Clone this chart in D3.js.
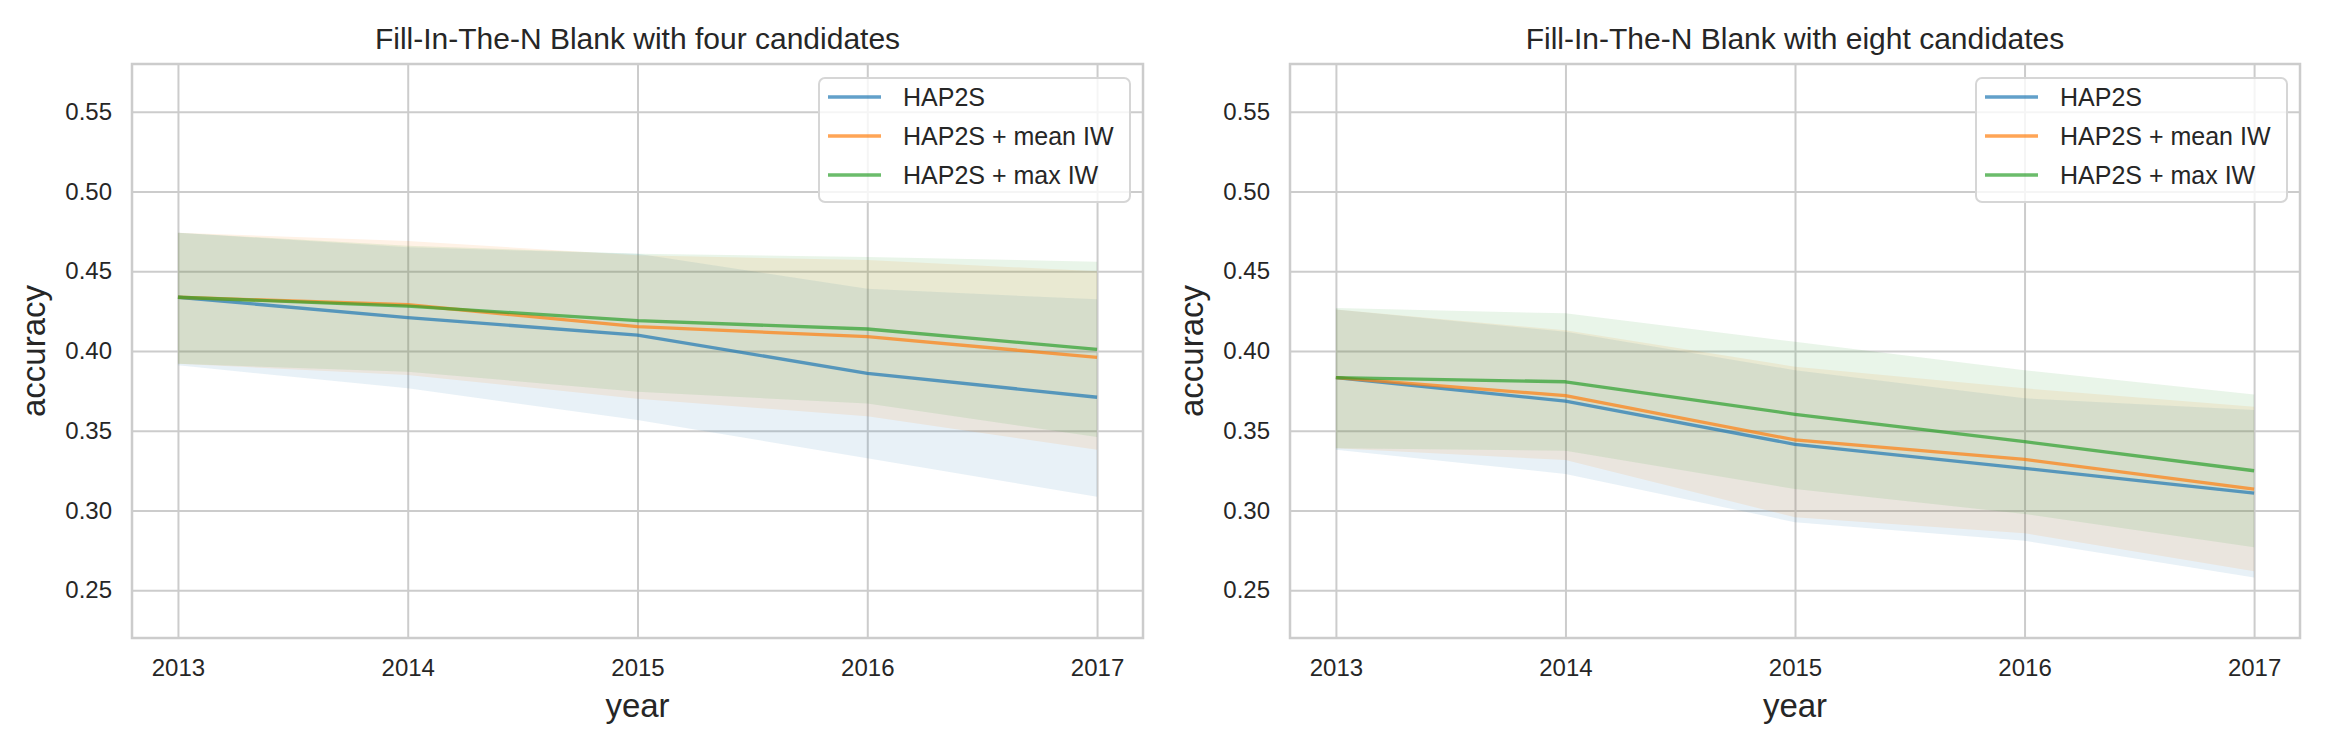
<!DOCTYPE html>
<html lang="en">
<head>
<meta charset="utf-8">
<title>Fill-In-The-N Blank</title>
<script src="https://d3js.org/d3.v7.min.js"></script>
<style>
  body { margin: 0; background: #ffffff; }
  text { font-family: "Liberation Sans", Arial, sans-serif; fill: #262626; }
</style>
</head>
<body>
<script>
// ---- data ----
const years = [2013, 2014, 2015, 2016, 2017];
const yTicks = [0.25, 0.30, 0.35, 0.40, 0.45, 0.50, 0.55];
const seriesNames = ["HAP2S", "HAP2S + mean IW", "HAP2S + max IW"];
const titles = ["Fill-In-The-N Blank with four candidates", "Fill-In-The-N Blank with eight candidates"];

// four candidates
const fourHap2s      = [0.4337, 0.4209, 0.4100, 0.3860, 0.3710];
const fourHap2sLow   = [0.3910, 0.3766, 0.3567, 0.3327, 0.3086];
const fourHap2sHigh  = [0.4742, 0.4650, 0.4610, 0.4390, 0.4324];
const fourMean       = [0.4337, 0.4290, 0.4153, 0.4090, 0.3960];
const fourMeanLow    = [0.3920, 0.3850, 0.3700, 0.3590, 0.3380];
const fourMeanHigh   = [0.4742, 0.4690, 0.4600, 0.4570, 0.4500];
const fourMax        = [0.4337, 0.4282, 0.4190, 0.4138, 0.4010];
const fourMaxLow     = [0.3920, 0.3870, 0.3745, 0.3670, 0.3460];
const fourMaxHigh    = [0.4742, 0.4660, 0.4610, 0.4590, 0.4560];

// eight candidates
const eightHap2s     = [0.3833, 0.3686, 0.3415, 0.3264, 0.3108];
const eightHap2sLow  = [0.3380, 0.3229, 0.2926, 0.2810, 0.2580];
const eightHap2sHigh = [0.4260, 0.4120, 0.3880, 0.3703, 0.3630];
const eightMean      = [0.3833, 0.3720, 0.3442, 0.3320, 0.3133];
const eightMeanLow   = [0.3390, 0.3316, 0.2957, 0.2857, 0.2618];
const eightMeanHigh  = [0.4260, 0.4130, 0.3902, 0.3766, 0.3651];
const eightMax       = [0.3833, 0.3807, 0.3603, 0.3431, 0.3249];
const eightMaxLow    = [0.3390, 0.3375, 0.3134, 0.2978, 0.2769];
const eightMaxHigh   = [0.4270, 0.4236, 0.4058, 0.3880, 0.3727];

const BLUE = "#1f77b4", ORANGE = "#ff7f0e", GREEN = "#2ca02c";
const GRID = "#cccccc";
const colors = [BLUE, ORANGE, GREEN];

const panels = [
  { title: titles[0], left: 132, right: 1143,
    series: [[fourHap2s, fourHap2sLow, fourHap2sHigh],
             [fourMean, fourMeanLow, fourMeanHigh],
             [fourMax, fourMaxLow, fourMaxHigh]] },
  { title: titles[1], left: 1290, right: 2300,
    series: [[eightHap2s, eightHap2sLow, eightHap2sHigh],
             [eightMean, eightMeanLow, eightMeanHigh],
             [eightMax, eightMaxLow, eightMaxHigh]] }
];

var width = 2332, height = 748, plotTop = 64, plotBottom = 638;

var svg = d3.select("body").append("svg")
    .attr("width", width)
    .attr("height", height);

panels.forEach(function(p) {
    var w = p.right - p.left, h = plotBottom - plotTop;

    var x = d3.scaleLinear().domain([2012.8, 2017.2]).range([0, w]);
    var y = d3.scaleLinear().domain([0.22, 0.58]).range([h, 0]);

    var g = svg.append("g").attr("transform", "translate(" + p.left + "," + plotTop + ")");

    // grid via axes
    var xAxis = g.append("g")
        .attr("transform", "translate(0," + h + ")")
        .call(d3.axisBottom(x).tickValues(years).tickFormat(d3.format("d"))
              .tickSize(-h).tickPadding(21));
    var yAxis = g.append("g")
        .call(d3.axisLeft(y).tickValues(yTicks).tickFormat(d3.format(".2f"))
              .tickSize(-w).tickPadding(20));

    [xAxis, yAxis].forEach(function(a) {
        a.select(".domain").remove();
        a.selectAll(".tick line").attr("stroke", GRID).attr("stroke-width", 2);
        a.selectAll(".tick text").attr("font-size", 24).attr("fill", "#262626")
            .style("font-family", '"Liberation Sans", Arial, sans-serif');
    });

    // bands
    p.series.forEach(function(s, i) {
        var area = d3.area()
            .x(function(d, k) { return x(years[k]); })
            .y0(function(d, k) { return y(s[1][k]); })
            .y1(function(d, k) { return y(s[2][k]); });
        g.append("path")
            .datum(years)
            .attr("d", area)
            .attr("fill", colors[i])
            .attr("fill-opacity", 0.1);
    });

    // lines
    p.series.forEach(function(s, i) {
        var line = d3.line()
            .x(function(d, k) { return x(years[k]); })
            .y(function(d) { return y(d); });
        g.append("path")
            .datum(s[0])
            .attr("d", line)
            .attr("fill", "none")
            .attr("stroke", colors[i])
            .attr("stroke-opacity", 0.7)
            .attr("stroke-width", 3.3)
            .attr("stroke-linejoin", "round");
    });

    // frame
    g.append("rect")
        .attr("width", w).attr("height", h)
        .attr("fill", "none")
        .attr("stroke", GRID)
        .attr("stroke-width", 2.5);

    // title and axis labels
    g.append("text")
        .attr("x", w / 2).attr("y", 49 - plotTop)
        .attr("text-anchor", "middle")
        .attr("font-size", 30)
        .text(p.title);

    g.append("text")
        .attr("x", w / 2).attr("y", 717 - plotTop)
        .attr("text-anchor", "middle")
        .attr("font-size", 33)
        .text("year");

    g.append("text")
        .attr("transform", "translate(-87," + (h / 2) + ") rotate(-90)")
        .attr("text-anchor", "middle")
        .attr("font-size", 33)
        .text("accuracy");

    // legend
    var lg = g.append("g").attr("transform", "translate(" + (w - 13 - 311) + ",14)");
    lg.append("rect")
        .attr("width", 311).attr("height", 124)
        .attr("rx", 6)
        .attr("fill", "#ffffff").attr("fill-opacity", 0.8)
        .attr("stroke", "#d6d6d6").attr("stroke-width", 2);
    seriesNames.forEach(function(name, i) {
        var cy = 19 + i * 39;
        lg.append("line")
            .attr("x1", 9).attr("x2", 62)
            .attr("y1", cy).attr("y2", cy)
            .attr("stroke", colors[i])
            .attr("stroke-opacity", 0.7)
            .attr("stroke-width", 3.3);
        lg.append("text")
            .attr("x", 84).attr("y", cy + 9)
            .attr("font-size", 25)
            .text(name);
    });
});
</script>
</body>
</html>
